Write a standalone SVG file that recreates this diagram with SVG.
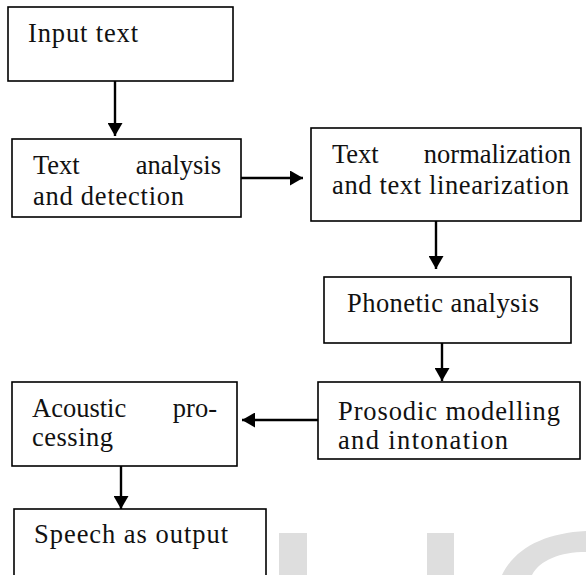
<svg xmlns="http://www.w3.org/2000/svg" width="586" height="575" viewBox="0 0 586 575">
<style>
.box{fill:#fff;stroke:#000;stroke-width:1.6}
.t{font-family:"Liberation Serif","Times New Roman",serif;font-size:26.5px;fill:#111}
.e{text-anchor:end}
.c{stroke:#000;stroke-width:2.4;fill:none}
.wm{fill:#dedede}
</style>
<defs>
<marker id="ah" viewBox="0 0 13 15" refX="13" refY="7.5" markerWidth="13" markerHeight="15" markerUnits="userSpaceOnUse" orient="auto">
<path d="M0,0 L13,7.5 L0,15 Z" fill="#000"/>
</marker>
</defs>
<rect width="586" height="575" fill="#fff"/>
<g id="watermark">
<rect class="wm" x="279" y="533" width="28" height="42"/>
<rect class="wm" x="427" y="533" width="27" height="42"/>
<path class="wm" d="M502,575 C515,548 545,533 586,531 L586,552 C560,552 540,560 532,575 Z"/>
</g>
<g id="connectors">
<line class="c" x1="115" y1="81" x2="115" y2="136" marker-end="url(#ah)"/>
<line class="c" x1="241" y1="178" x2="303" y2="178" marker-end="url(#ah)"/>
<line class="c" x1="436" y1="221" x2="436" y2="269" marker-end="url(#ah)"/>
<line class="c" x1="442" y1="343" x2="442" y2="381" marker-end="url(#ah)"/>
<line class="c" x1="318" y1="420" x2="242" y2="420" marker-end="url(#ah)"/>
<line class="c" x1="121" y1="466" x2="121" y2="509" marker-end="url(#ah)"/>
</g>
<g id="input">
<rect class="box" x="8" y="7" width="225" height="74"/>
<text class="t" x="28" y="42" textLength="110" lengthAdjust="spacing">Input text</text>
</g>
<g id="analysis">
<rect class="box" x="12" y="139" width="229" height="78"/>
<text class="t" x="33" y="174">Text</text>
<text class="t e" x="221" y="174">analysis</text>
<text class="t" x="33" y="205" textLength="151" lengthAdjust="spacing">and detection</text>
</g>
<g id="normalization">
<rect class="box" x="311" y="128" width="270" height="93"/>
<text class="t" x="332" y="163">Text</text>
<text class="t e" x="571" y="163">normalization</text>
<text class="t" x="332" y="194" textLength="237" lengthAdjust="spacing">and text linearization</text>
</g>
<g id="phonetic">
<rect class="box" x="324" y="277" width="247" height="66"/>
<text class="t" x="347" y="312" textLength="192" lengthAdjust="spacing">Phonetic analysis</text>
</g>
<g id="prosodic">
<rect class="box" x="318" y="382" width="262" height="77"/>
<text class="t" x="338" y="420" textLength="222" lengthAdjust="spacing">Prosodic modelling</text>
<text class="t" x="338" y="449" textLength="170" lengthAdjust="spacing">and intonation</text>
</g>
<g id="acoustic">
<rect class="box" x="12" y="382" width="225" height="84"/>
<text class="t" x="32" y="417">Acoustic</text>
<text class="t e" x="217" y="417">pro-</text>
<text class="t" x="32" y="446" textLength="81" lengthAdjust="spacing">cessing</text>
</g>
<g id="speech">
<rect class="box" x="14" y="509" width="252" height="80"/>
<text class="t" x="34" y="543" textLength="194" lengthAdjust="spacing">Speech as output</text>
</g>
</svg>
